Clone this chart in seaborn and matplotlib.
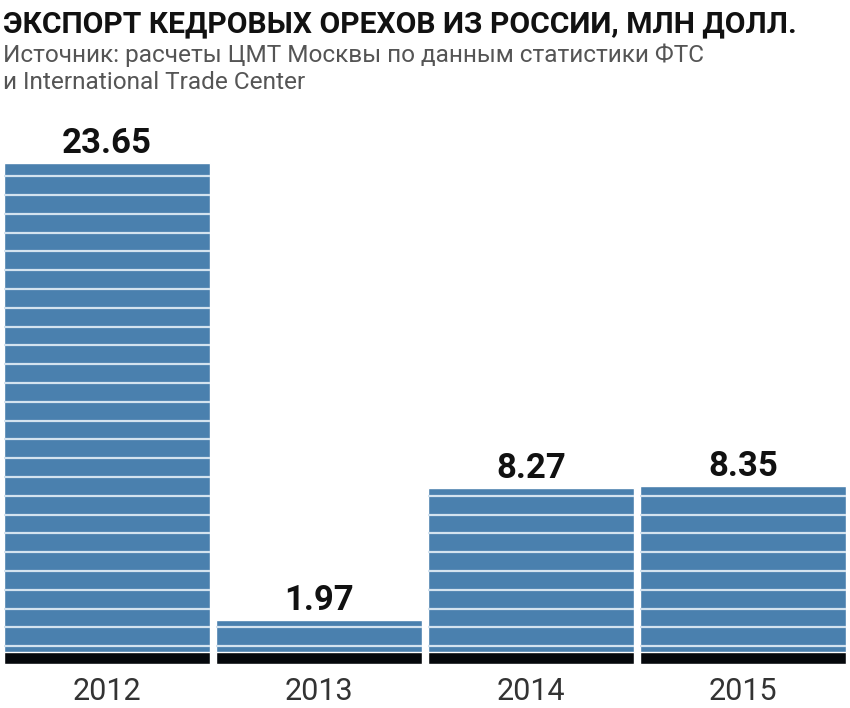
import numpy as np
import pandas as pd
import matplotlib
matplotlib.use("Agg")
import matplotlib.pyplot as plt
import seaborn as sns

# data
years = ["2012", "2013", "2014", "2015"]
export_musd = [23.65, 1.97, 8.27, 8.35]

TITLE = "ЭКСПОРТ КЕДРОВЫХ ОРЕХОВ ИЗ РОССИИ, МЛН ДОЛЛ."
SUB1 = "Источник: расчеты ЦМТ Москвы по данным статистики ФТС"
SUB2 = "и International Trade Center"

BLUE = "#4a80ae"
BAND = "#05080c"

sns.set_theme(style="white")
plt.rcParams["font.family"] = ["Roboto", "DejaVu Sans"]

W, H = 850, 708
fig = plt.figure(figsize=(W / 100, H / 100), dpi=100)

base_px = 665          # baseline (pixels from top)
top_px = 120
scale = 21.2           # pixels per unit
ax = fig.add_axes([0, (H - base_px) / H, 1, (base_px - top_px) / H])

df = pd.DataFrame({"year": years, "value": export_musd})
sns.barplot(data=df, x="year", y="value", color=BLUE, saturation=1,
            width=0.972, ax=ax, errorbar=None)
bars = list(ax.patches)

# dark band at the foot of every bar
band = 12.5 / scale
df["band"] = band
sns.barplot(data=df, x="year", y="band", color=BAND, saturation=1,
            width=0.972, ax=ax, errorbar=None, bottom=-2 / scale)

ax.set_xlim(-0.505, 3.505)
ax.set_ylim(-3 / scale, (base_px - top_px) / scale)

# thin light stripes inside each bar
stripes = np.arange(16 / scale, max(export_musd), 18.9 / scale)
for p in bars:
    x0, x1 = p.get_x(), p.get_x() + p.get_width()
    ys = stripes[stripes < p.get_height() - 4 / scale]
    ax.hlines(ys, x0, x1, color="#d4e3ef", lw=1.6, zorder=5)

for i, v in enumerate(export_musd):
    ax.text(i, v + 3 / scale, f"{v:.2f}", ha="center", va="bottom",
            fontsize=25, fontweight="bold", color="#111111")

ax.set_xlabel("")
ax.set_ylabel("")
ax.set_yticks([])
ax.tick_params(axis="x", length=0, pad=9, labelsize=22, labelcolor="#333333")
for s in ax.spines.values():
    s.set_visible(False)

fig.text(3 / W, (H - 32) / H, TITLE, fontsize=21.6, fontweight="bold",
         color="#111111", va="baseline", ha="left")
fig.text(3 / W, (H - 62) / H, SUB1, fontsize=17.6, color="#555555",
         va="baseline", ha="left")
fig.text(3 / W, (H - 89) / H, SUB2, fontsize=17.6, color="#555555",
         va="baseline", ha="left")

fig.savefig("out.png", dpi=100, facecolor="white")
